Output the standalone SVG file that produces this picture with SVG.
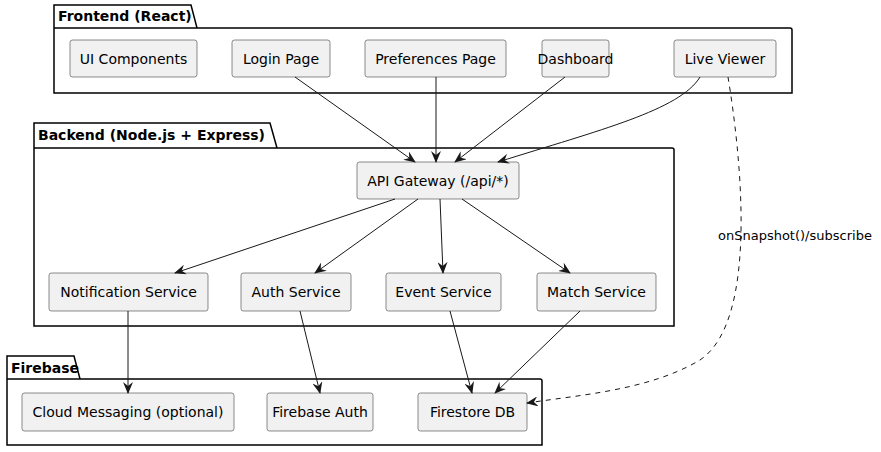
<svg xmlns="http://www.w3.org/2000/svg" width="881" height="452" viewBox="0 0 881 452">
<style>
text{font-family:"DejaVu Sans",sans-serif;font-size:14px;fill:#000}
.pkg{fill:none;stroke:#000;stroke-width:1.5}
.pt{font-weight:bold;font-size:14px}
.n rect{fill:#f1f1f1;stroke:#181818;stroke-width:0.5}
.n text{text-anchor:middle}
.e{fill:none;stroke:#181818;stroke-width:1;marker-end:url(#a)}
.d{stroke-dasharray:5 5}
</style>
<defs><marker id="a" viewBox="0 0 12 10" refX="11" refY="5" markerWidth="12" markerHeight="10" orient="auto" markerUnits="userSpaceOnUse"><path d="M0,0 L12,5 L0,10 L4,5 Z" fill="#181818"/></marker></defs>
<g id="pkg-frontend"><path class="pkg" d="M54,28 V5 H191 L197,28 H790 Q792,28 792,30 V93 H54 Z M54,28 H197"/><text class="pt" x="58" y="21">Frontend (React)</text></g>
<g id="pkg-backend"><path class="pkg" d="M34,148 V123 H270 L277,148 H672 Q674,148 674,150 V326 H34 Z M34,148 H277"/><text class="pt" x="38" y="140">Backend (Node.js + Express)</text></g>
<g id="pkg-firebase"><path class="pkg" d="M7,379 V356 H74 L80,379 H540 Q542,379 542,381 V445 H7 Z M7,379 H80"/><text class="pt" x="11" y="373">Firebase</text></g>
<g id="ui" class="n"><rect x="70" y="40" width="127" height="37" rx="2.5"/><text x="133.5" y="64">UI Components</text></g>
<g id="login" class="n"><rect x="232" y="40" width="98" height="37" rx="2.5"/><text x="281" y="64">Login Page</text></g>
<g id="prefs" class="n"><rect x="365" y="40" width="141" height="37" rx="2.5"/><text x="435.5" y="64">Preferences Page</text></g>
<g id="dash" class="n"><rect x="542" y="40" width="67" height="37" rx="2.5"/><text x="575.5" y="64">Dashboard</text></g>
<g id="live" class="n"><rect x="674" y="40" width="102" height="37" rx="2.5"/><text x="725" y="64">Live Viewer</text></g>
<g id="api" class="n"><rect x="357" y="162" width="162" height="37" rx="2.5"/><text x="438" y="186">API Gateway (/api/*)</text></g>
<g id="notif" class="n"><rect x="49" y="273" width="159" height="38" rx="2.5"/><text x="128.5" y="297">Notification Service</text></g>
<g id="auth" class="n"><rect x="241" y="273" width="110" height="38" rx="2.5"/><text x="296" y="297">Auth Service</text></g>
<g id="event" class="n"><rect x="386" y="273" width="115" height="38" rx="2.5"/><text x="443.5" y="297">Event Service</text></g>
<g id="match" class="n"><rect x="537" y="273" width="119" height="38" rx="2.5"/><text x="596.5" y="297">Match Service</text></g>
<g id="fcm" class="n"><rect x="22" y="393" width="212" height="38" rx="2.5"/><text x="128" y="417">Cloud Messaging (optional)</text></g>
<g id="fauth" class="n"><rect x="267" y="393" width="106" height="38" rx="2.5"/><text x="320" y="417">Firebase Auth</text></g>
<g id="fdb" class="n"><rect x="418" y="393" width="109" height="38" rx="2.5"/><text x="472.5" y="417">Firestore DB</text></g>
<g id="edges">
<path class="e" d="M295,77 L415,162"/>
<path class="e" d="M436,77 L436,162"/>
<path class="e" d="M565,77 L455,162"/>
<path class="e" d="M700,77 C680,110 600,130 498,162"/>
<path class="e" d="M395,199 L175,273"/>
<path class="e" d="M418,199 L315,273"/>
<path class="e" d="M440,199 L443,273"/>
<path class="e" d="M462,199 L570,273"/>
<path class="e" d="M128,311 L128,393"/>
<path class="e" d="M300,311 L320,393"/>
<path class="e" d="M450,311 L472,393"/>
<path class="e" d="M580,311 L495,393"/>
<path class="e d" d="M728,77 C740,150 760,320 700,360 C650,390 580,395 527,403"/>
<text x="718" y="240" style="font-size:13px">onSnapshot()/subscribe</text>
</g>
</svg>
